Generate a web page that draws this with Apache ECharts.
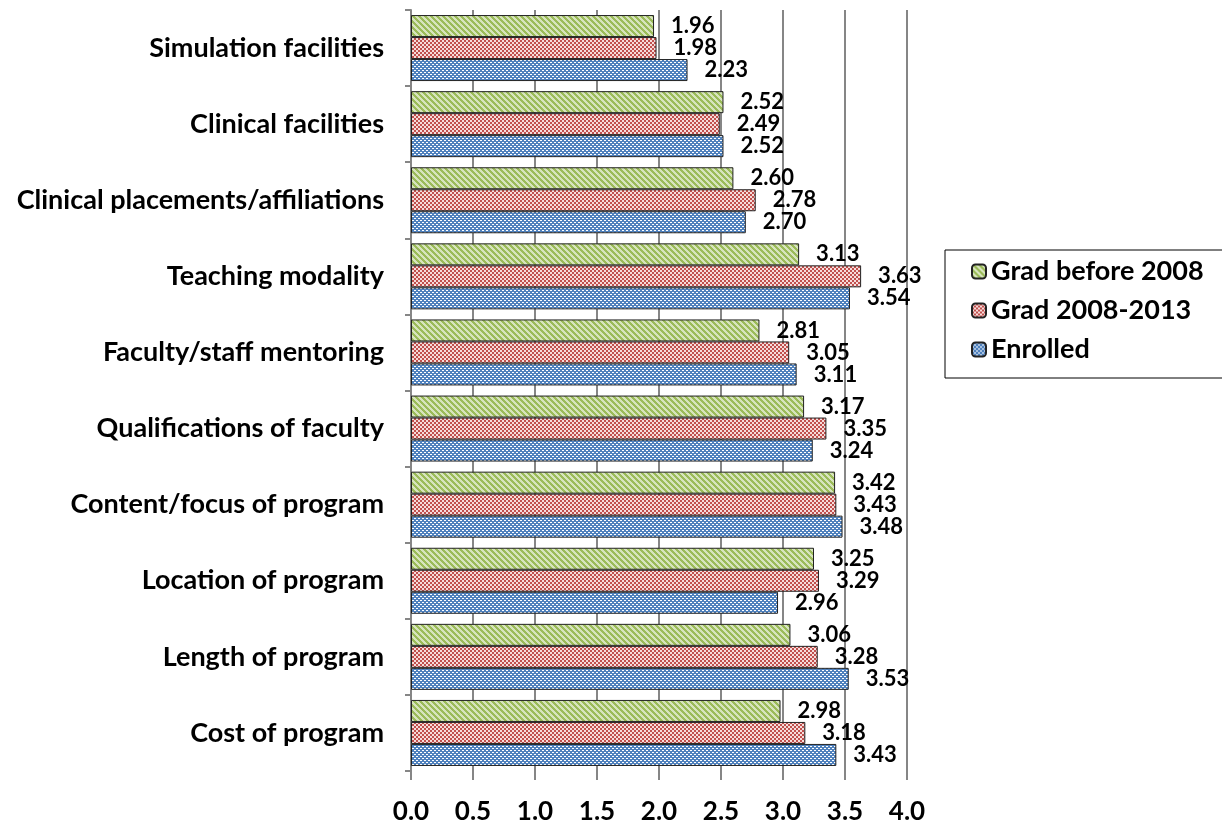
<!DOCTYPE html>
<html>
<head>
<meta charset="utf-8">
<script src="https://cdn.jsdelivr.net/npm/echarts@6/dist/echarts.min.js"></script>
<style>
  html, body { margin: 0; padding: 0; background: #fff; }
  #chart { width: 1222px; height: 821px; }
</style>
</head>
<body>
<div id="chart"></div>
<script>
// categories, bottom to top
var categories = [
    "Cost of program",
    "Length of program",
    "Location of program",
    "Content/focus of program",
    "Qualifications of faculty",
    "Faculty/staff mentoring",
    "Teaching modality",
    "Clinical placements/affiliations",
    "Clinical facilities",
    "Simulation facilities"
];
var seriesNames = ["Grad before 2008", "Grad 2008-2013", "Enrolled"];
var gradBefore2008 = [2.98, 3.06, 3.25, 3.42, 3.17, 2.81, 3.13, 2.60, 2.52, 1.96];
var grad2008to2013 = [3.18, 3.28, 3.29, 3.43, 3.35, 3.05, 3.63, 2.78, 2.49, 1.98];
var enrolled = [3.43, 3.53, 2.96, 3.48, 3.24, 3.11, 3.54, 2.70, 2.52, 2.23];

// small pixel patterns like the excel fills
function makePattern(size, fg, bg, isFg) {
    var c = document.createElement("canvas");
    c.width = size; c.height = size;
    var ctx = c.getContext("2d");
    for (var y = 0; y < size; y++) {
        for (var x = 0; x < size; x++) {
            ctx.fillStyle = isFg(x, y) ? fg : bg;
            ctx.fillRect(x, y, 1, 1);
        }
    }
    return { image: c, repeat: "repeat" };
}
function checker(x, y) {
    return ((Math.floor(x / 2) + Math.floor(y / 2)) % 2) == 0;
}
var greenFill = makePattern(6, "#9bbb59", "#d7e4bd", function (x, y) {
    return ((x - y + 12) % 6) < 3;
});
var redFill = makePattern(4, "#c0504d", "#f6dcdb", checker);
// blue: white dots laid out like a checkerboard
var blueFill = makePattern(4, "#4f81bd", "#ffffff", function (x, y) {
    return !((y == 0 && x < 2) || (y == 2 && x >= 2));
});

var fontFam = "Lato, 'Open Sans', sans-serif";

function barSeries(name, data, fill) {
    return {
        name: name,
        type: "bar",
        data: data,
        barWidth: 22,
        barGap: "0%",
        itemStyle: { color: fill, borderColor: "#222", borderWidth: 1 },
        label: {
            show: true,
            position: "right",
            distance: 17,
            color: "#000",
            fontWeight: "bold",
            fontSize: 22,
            fontFamily: fontFam,
            formatter: function (p) { return p.value.toFixed(2); }
        }
    };
}

var chart = echarts.init(document.getElementById("chart"));
var option = {
    animation: false,
    grid: { left: 411, right: 315, top: 10, bottom: 50, outerBoundsMode: "none" },
    legend: {
        data: seriesNames,
        orient: "vertical",
        left: 945,
        top: 250,
        padding: [8, 40, 15, 26],
        itemGap: 12,
        itemWidth: 14,
        itemHeight: 14,
        borderColor: "#000",
        borderWidth: 1,
        textStyle: { color: "#000", fontWeight: "bold", fontSize: 27, fontFamily: fontFam }
    },
    xAxis: {
        type: "value",
        min: 0,
        max: 4,
        interval: 0.5,
        axisLine: { show: false },
        axisTick: { show: true, length: 9, lineStyle: { color: "#868686", width: 2 } },
        splitLine: { show: true, lineStyle: { color: "#868686", width: 2 } },
        axisLabel: {
            color: "#000",
            fontWeight: "bold",
            fontSize: 26,
            fontFamily: fontFam,
            margin: 28,
            formatter: function (v) { return v.toFixed(1); }
        }
    },
    yAxis: {
        type: "category",
        data: categories,
        axisLine: { show: true, lineStyle: { color: "#868686", width: 2 } },
        axisTick: { show: true, length: 6, lineStyle: { color: "#868686", width: 2 } },
        axisLabel: {
            color: "#000",
            fontWeight: "bold",
            fontSize: 27,
            fontFamily: fontFam,
            margin: 27
        }
    },
    series: [
        barSeries(seriesNames[0], gradBefore2008, greenFill),
        barSeries(seriesNames[1], grad2008to2013, redFill),
        barSeries(seriesNames[2], enrolled, blueFill)
    ]
};
chart.setOption(option);
</script>
</body>
</html>
